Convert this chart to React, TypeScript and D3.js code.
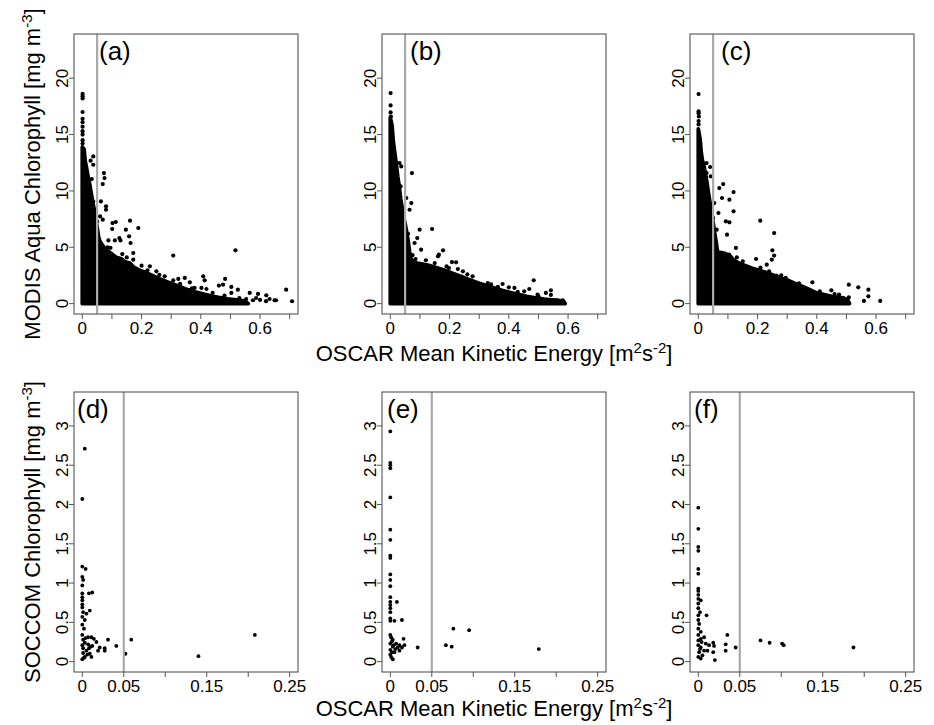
import React from "react";
import * as d3 from "d3";

type Pt = [number, number];

// ---- upper row: MODIS Aqua chlorophyll vs OSCAR mean kinetic energy ----
// Upper edge of the densely packed cloud of observations (MKE, chl)
const coreA: Pt[] = [
  [0, 13.9], [0.006, 13.7], [0.01, 12.6], [0.014, 12.1], [0.02, 11.2], [0.025, 10.6],
  [0.03, 9.8], [0.035, 9.0], [0.04, 8.4], [0.045, 7.6], [0.05, 6.8], [0.055, 5.9],
  [0.06, 5.5], [0.075, 4.9], [0.09, 4.6], [0.1, 4.4], [0.115, 4.1], [0.13, 4.0],
  [0.145, 3.7], [0.16, 3.6], [0.175, 3.2], [0.19, 3.0], [0.21, 2.8], [0.24, 2.45],
  [0.265, 2.15], [0.29, 1.9], [0.32, 1.6], [0.35, 1.3], [0.38, 1.05], [0.41, 0.85],
  [0.44, 0.65], [0.46, 0.55], [0.49, 0.42], [0.52, 0.33], [0.55, 0.22], [0.56, 0],
];
const coreB: Pt[] = [
  [0, 16.5], [0.006, 15.8], [0.01, 14.4], [0.014, 13.6], [0.02, 12.4], [0.025, 11.3],
  [0.03, 10.4], [0.035, 9.3], [0.04, 8.5], [0.045, 7.7], [0.05, 7.1], [0.055, 6.4],
  [0.06, 5.6], [0.065, 4.6], [0.07, 3.9], [0.09, 3.6], [0.11, 3.5], [0.13, 3.4],
  [0.155, 3.2], [0.18, 3.0], [0.21, 2.7], [0.24, 2.4], [0.27, 2.1], [0.3, 1.8],
  [0.325, 1.6], [0.35, 1.4], [0.38, 1.15], [0.41, 0.95], [0.44, 0.78], [0.46, 0.65],
  [0.49, 0.52], [0.52, 0.4], [0.545, 0.34], [0.565, 0.3], [0.585, 0.2], [0.59, 0],
];
const coreC: Pt[] = [
  [0, 15.5], [0.006, 14.6], [0.01, 13.4], [0.014, 12.7], [0.02, 12.1], [0.025, 11.4],
  [0.03, 10.6], [0.035, 9.7], [0.04, 8.9], [0.045, 8.0], [0.05, 7.2], [0.055, 6.3],
  [0.06, 5.5], [0.065, 4.6], [0.09, 4.45], [0.105, 4.3], [0.12, 3.85], [0.14, 3.55],
  [0.16, 3.35], [0.18, 3.15], [0.2, 3.0], [0.225, 2.8], [0.25, 2.55], [0.275, 2.3],
  [0.3, 2.1], [0.325, 1.8], [0.35, 1.55], [0.375, 1.25], [0.4, 0.95], [0.425, 0.8],
  [0.45, 0.65], [0.47, 0.58], [0.49, 0.5], [0.505, 0.3], [0.51, 0],
];

// Isolated observations outside the dense cloud
const sparseA: Pt[] = [
  [0.001, 18.6], [0.001, 18.4], [0.001, 18.2], [0.001, 17.0], [0.001, 16.4], [0.001, 16.1],
  [0.001, 15.7], [0.001, 15.3], [0.001, 15.0], [0.001, 14.5], [0.001, 14.2],
  [0.028, 12.68], [0.037, 13.06], [0.037, 12.32], [0.032, 11.05], [0.073, 11.58],
  [0.075, 11.14], [0.069, 10.61], [0.063, 9.07], [0.08, 8.63], [0.08, 8.33], [0.037, 9.07],
  [0.06, 7.74], [0.069, 7.45], [0.102, 7.15], [0.113, 7.24], [0.161, 7.36], [0.189, 6.71],
  [0.101, 6.62], [0.147, 6.56], [0.125, 5.82], [0.129, 5.61], [0.158, 5.97], [0.163, 5.38],
  [0.088, 5.61], [0.11, 5.61], [0.307, 4.26], [0.517, 4.73], [0.172, 4.49], [0.172, 3.9],
  [0.2, 3.37], [0.228, 3.31], [0.25, 2.87], [0.278, 2.42], [0.307, 2.07], [0.324, 2.19],
  [0.346, 2.28], [0.363, 1.89], [0.408, 2.42], [0.413, 2.07], [0.379, 1.39], [0.402, 1.39],
  [0.419, 1.3], [0.461, 1.6], [0.475, 1.68], [0.482, 2.19], [0.503, 1.48], [0.525, 1.24],
  [0.503, 0.95], [0.565, 0.95], [0.593, 0.86], [0.587, 0.5], [0.621, 0.74], [0.632, 0.41],
  [0.654, 0.3], [0.688, 1.24], [0.708, 0.21], [0.553, 0.41], [0.576, 0.3], [0.649, 0.3],
  [0.085, 5.0], [0.095, 4.95], [0.135, 4.4], [0.15, 4.1], [0.22, 2.95], [0.26, 2.55],
  [0.33, 1.75], [0.37, 1.35], [0.44, 0.95], [0.48, 0.72], [0.53, 0.5], [0.6, 0.33],
  [0.62, 0.22], [0.045, 8.2], [0.05, 7.3],
];
const sparseB: Pt[] = [
  [0.001, 18.68], [0.001, 17.58], [0.001, 16.96], [0.002, 16.6],
  [0.031, 12.47], [0.037, 12.17], [0.073, 11.58], [0.028, 10.55], [0.035, 10.4],
  [0.071, 8.92], [0.065, 8.33], [0.026, 8.63], [0.054, 9.37], [0.099, 6.56], [0.141, 6.62],
  [0.091, 5.82], [0.082, 5.38], [0.104, 4.79], [0.178, 4.73], [0.164, 4.34], [0.161, 4.2],
  [0.222, 3.66], [0.208, 3.69], [0.198, 3.16], [0.228, 3.07], [0.278, 2.42], [0.329, 1.83],
  [0.307, 1.54], [0.363, 1.48], [0.379, 1.74], [0.4, 1.45], [0.419, 1.39], [0.452, 1.09],
  [0.469, 1.3], [0.484, 2.07], [0.497, 0.8], [0.525, 0.95], [0.542, 1.18], [0.542, 0.77],
  [0.565, 0.27], [0.582, 0.3], [0.245, 2.87], [0.262, 1.98],
  [0.075, 4.3], [0.085, 3.95], [0.12, 3.85], [0.15, 3.6], [0.19, 3.3], [0.26, 2.6],
  [0.34, 1.7], [0.43, 1.05], [0.5, 0.65], [0.06, 6.2],
];
const sparseC: Pt[] = [
  [0.001, 18.59], [0.001, 17.05], [0.001, 16.9], [0.002, 16.6], [0.001, 16.2], [0.001, 15.9],
  [0.028, 12.47], [0.017, 12.17], [0.04, 12.12], [0.028, 11.58], [0.042, 11.29],
  [0.084, 10.61], [0.071, 10.25], [0.119, 9.9], [0.08, 9.37], [0.105, 9.22], [0.054, 8.92],
  [0.035, 9.07], [0.119, 8.19], [0.068, 8.04], [0.105, 7.21], [0.093, 7.3], [0.209, 7.36],
  [0.256, 6.26], [0.062, 6.56], [0.097, 6.12], [0.127, 4.94], [0.25, 4.73], [0.256, 4.26],
  [0.248, 3.9], [0.231, 3.46], [0.195, 3.96], [0.104, 4.34], [0.071, 4.34], [0.161, 3.25],
  [0.181, 3.07], [0.239, 2.87], [0.264, 2.48], [0.295, 2.28], [0.329, 1.68], [0.385, 1.89],
  [0.449, 1.18], [0.475, 0.8], [0.508, 1.68], [0.508, 0.56], [0.54, 1.45], [0.574, 1.24],
  [0.574, 0.65], [0.559, 0.24], [0.614, 0.24], [0.495, 0.41],
  [0.13, 4.1], [0.15, 3.75], [0.21, 3.2], [0.28, 2.5], [0.34, 1.8], [0.41, 1.1],
  [0.46, 0.85], [0.05, 7.6],
];

// ---- lower row: SOCCOM float chlorophyll vs OSCAR mean kinetic energy ----
const floatsD: Pt[] = [
  [0.003, 2.71], [0.0, 2.07], [0.0, 1.21], [0.004, 1.18], [0.0, 1.08], [0.001, 1.04],
  [0.0, 0.97], [0.012, 0.88], [0.0, 0.87], [0.0, 0.82], [0.008, 0.87], [0.0, 0.78],
  [0.0, 0.73], [0.0, 0.69], [0.009, 0.65], [0.001, 0.63], [0.005, 0.61], [0.0, 0.57],
  [0.003, 0.53], [0.0, 0.47], [0.002, 0.42], [0.0, 0.34], [0.011, 0.31], [0.014, 0.29],
  [0.001, 0.28], [0.031, 0.28], [0.059, 0.28], [0.017, 0.25], [0.003, 0.24], [0.0, 0.21],
  [0.007, 0.22], [0.01, 0.19], [0.021, 0.18], [0.027, 0.17], [0.041, 0.2], [0.027, 0.14],
  [0.019, 0.14], [0.001, 0.17], [0.005, 0.14], [0.001, 0.11], [0.009, 0.1], [0.052, 0.1],
  [0.003, 0.06], [0.011, 0.06], [0.0, 0.03], [0.002, 0.05], [0.006, 0.09], [0.14, 0.07],
  [0.208, 0.34], [0.004, 0.3], [0.007, 0.31], [0.012, 0.2], [0.008, 0.17],
];
const floatsE: Pt[] = [
  [0.0, 2.93], [0.0, 2.53], [0.0, 2.5], [0.0, 2.46], [0.0, 2.09], [0.0, 1.68], [0.0, 1.55],
  [0.0, 1.35], [0.0, 1.32], [0.0, 1.11], [0.0, 1.04], [0.0, 0.96], [0.0, 0.82], [0.0, 0.76],
  [0.008, 0.76], [0.0, 0.72], [0.0, 0.68], [0.0, 0.63], [0.0, 0.55], [0.0, 0.52],
  [0.005, 0.52], [0.014, 0.53], [0.0, 0.34], [0.001, 0.31], [0.003, 0.28], [0.016, 0.29],
  [0.0, 0.23], [0.007, 0.23], [0.011, 0.21], [0.017, 0.21], [0.003, 0.19], [0.009, 0.18],
  [0.014, 0.18], [0.0, 0.15], [0.011, 0.14], [0.005, 0.12], [0.0, 0.09], [0.001, 0.06],
  [0.003, 0.03], [0.033, 0.18], [0.067, 0.21], [0.074, 0.19], [0.076, 0.42], [0.095, 0.4],
  [0.179, 0.16], [0.002, 0.26], [0.004, 0.21], [0.006, 0.16], [0.002, 0.12],
];
const floatsF: Pt[] = [
  [0.0, 1.96], [0.0, 1.69], [0.0, 1.46], [0.0, 1.41], [0.0, 1.18], [0.0, 1.12], [0.0, 0.93],
  [0.0, 0.9], [0.0, 0.85], [0.0, 0.8], [0.003, 0.78], [0.0, 0.74], [0.0, 0.68],
  [0.002, 0.63], [0.0, 0.59], [0.01, 0.59], [0.0, 0.53], [0.001, 0.48], [0.0, 0.42],
  [0.003, 0.38], [0.0, 0.34], [0.007, 0.31], [0.003, 0.29], [0.035, 0.34], [0.0, 0.27],
  [0.009, 0.23], [0.0, 0.21], [0.013, 0.21], [0.018, 0.24], [0.033, 0.22], [0.045, 0.18],
  [0.003, 0.18], [0.007, 0.14], [0.001, 0.12], [0.011, 0.14], [0.018, 0.12], [0.033, 0.14],
  [0.005, 0.08], [0.0, 0.06], [0.003, 0.04], [0.02, 0.02], [0.075, 0.27], [0.086, 0.24],
  [0.101, 0.23], [0.103, 0.21], [0.187, 0.18], [0.019, 0.2], [0.004, 0.25], [0.002, 0.16],
];

// Axis ticks and labels
const upperXTicks = [0, 0.1, 0.2, 0.3, 0.4, 0.5, 0.6, 0.7];
const upperXLabels = [0, 0.2, 0.4, 0.6];
const upperYTicks = [0, 5, 10, 15, 20];
const lowerXTicks = [0, 0.05, 0.1, 0.15, 0.2, 0.25];
const lowerXLabels = [0, 0.05, 0.15, 0.25];
const lowerYTicks = [0, 0.5, 1, 1.5, 2, 2.5, 3];
const threshold = 0.05;

const panelTags = ["(a)", "(b)", "(c)", "(d)", "(e)", "(f)"];

const FONT = "'Liberation Sans', Arial, Helvetica, sans-serif";
const W = 934;
const H = 725;
const colLeft = [74, 382, 690];
const rowTop = [34, 392];
const boxW = 224;
const boxH = 280;
const tagOffset = [25, 28, 31, 3, 5, 4];

const fmt = (v: number) => String(v);

// Extend a range by 4% on each side, like R's default axis style
const pad = (lo: number, hi: number): [number, number] => {
  const d = (hi - lo) * 0.04;
  return [lo - d, hi + d];
};

type PanelProps = {
  idx: number;
  core?: Pt[];
  points: Pt[];
  upper: boolean;
};

function Panel({ idx, core, points, upper }: PanelProps) {
  const col = idx % 3;
  const row = Math.floor(idx / 3);
  const left = colLeft[col];
  const top = rowTop[row];
  const x = d3
    .scaleLinear()
    .domain(upper ? pad(0, 0.7) : pad(0, 0.25))
    .range([left, left + boxW]);
  const y = d3
    .scaleLinear()
    .domain(upper ? pad(0, 23) : pad(0, 3.3))
    .range([top + boxH, top]);
  const xTicks = upper ? upperXTicks : lowerXTicks;
  const xLabels = upper ? upperXLabels : lowerXLabels;
  const yTicks = upper ? upperYTicks : lowerYTicks;
  const bottom = top + boxH;

  const area = d3
    .area<Pt>()
    .x((d) => x(d[0]))
    .y0(y(0))
    .y1((d) => y(d[1]));

  const tickStroke = "#555";
  return (
    <g>
      {core && (
        <path
          d={area(core) || ""}
          fill="#000"
          stroke="#000"
          strokeWidth={3.8}
          strokeLinejoin="round"
        />
      )}
      {points.map((p, i) => (
        <circle key={i} cx={x(p[0])} cy={y(p[1])} r={upper ? 2.1 : 1.9} fill="#000" />
      ))}
      <line
        x1={x(threshold)}
        x2={x(threshold)}
        y1={top}
        y2={bottom}
        stroke="#aaaaaa"
        strokeWidth={2.2}
      />
      <rect x={left} y={top} width={boxW} height={boxH} fill="none" stroke={tickStroke} strokeWidth={1.1} />
      {/* x axis */}
      {xTicks.map((t) => (
        <line key={"xt" + t} x1={x(t)} x2={x(t)} y1={bottom} y2={bottom + 5} stroke={tickStroke} strokeWidth={1} />
      ))}
      {xLabels.map((t) => (
        <text
          key={"xl" + t}
          x={x(t)}
          y={bottom + 19.5}
          textAnchor="middle"
          fontSize={17}
          fontFamily={FONT}
          fill="#000"
        >
          {fmt(t)}
        </text>
      ))}
      {/* y axis */}
      {yTicks.map((t) => (
        <line key={"yt" + t} x1={left - 5} x2={left} y1={y(t)} y2={y(t)} stroke={tickStroke} strokeWidth={1} />
      ))}
      {yTicks.map((t) => (
        <text
          key={"yl" + t}
          transform={`translate(${left - 6},${y(t)}) rotate(-90)`}
          textAnchor="middle"
          fontSize={17}
          fontFamily={FONT}
          fill="#000"
        >
          {fmt(t)}
        </text>
      ))}
      <text
        x={left + tagOffset[idx]}
        y={top + 25.5}
        fontSize={26}
        fontFamily={FONT}
        fill="#000"
      >
        {panelTags[idx]}
      </text>
    </g>
  );
}

function XTitle({ baseline }: { baseline: number }) {
  return (
    <text x={494} y={baseline} textAnchor="middle" fontSize={22} fontFamily={FONT} fill="#000">
      OSCAR Mean Kinetic Energy [m
      <tspan fontSize={15} dy={-8}>2</tspan>
      <tspan dy={8}>s</tspan>
      <tspan fontSize={15} dy={-8}>-2</tspan>
      <tspan dy={8}>]</tspan>
    </text>
  );
}

function YTitle({ label, center }: { label: string; center: number }) {
  return (
    <text
      transform={`translate(40,${center}) rotate(-90)`}
      textAnchor="middle"
      fontSize={22}
      fontFamily={FONT}
      fill="#000"
    >
      {label} [mg m
      <tspan fontSize={15} dy={-8}>-3</tspan>
      <tspan dy={8}>]</tspan>
    </text>
  );
}

export default function App() {
  return (
    <svg
      width={W}
      height={H}
      viewBox={`0 0 ${W} ${H}`}
      style={{ position: "absolute", left: 0, top: 0, display: "block", background: "#fff" }}
    >
      <rect x={0} y={0} width={W} height={H} fill="#fff" />
      <Panel idx={0} core={coreA} points={sparseA} upper />
      <Panel idx={1} core={coreB} points={sparseB} upper />
      <Panel idx={2} core={coreC} points={sparseC} upper />
      <Panel idx={3} points={floatsD} upper={false} />
      <Panel idx={4} points={floatsE} upper={false} />
      <Panel idx={5} points={floatsF} upper={false} />
      <YTitle label="MODIS Aqua Chlorophyll" center={rowTop[0] + boxH / 2} />
      <YTitle label="SOCCOM Chlorophyll" center={rowTop[1] + boxH / 2} />
      <XTitle baseline={361} />
      <XTitle baseline={715.5} />
    </svg>
  );
}
